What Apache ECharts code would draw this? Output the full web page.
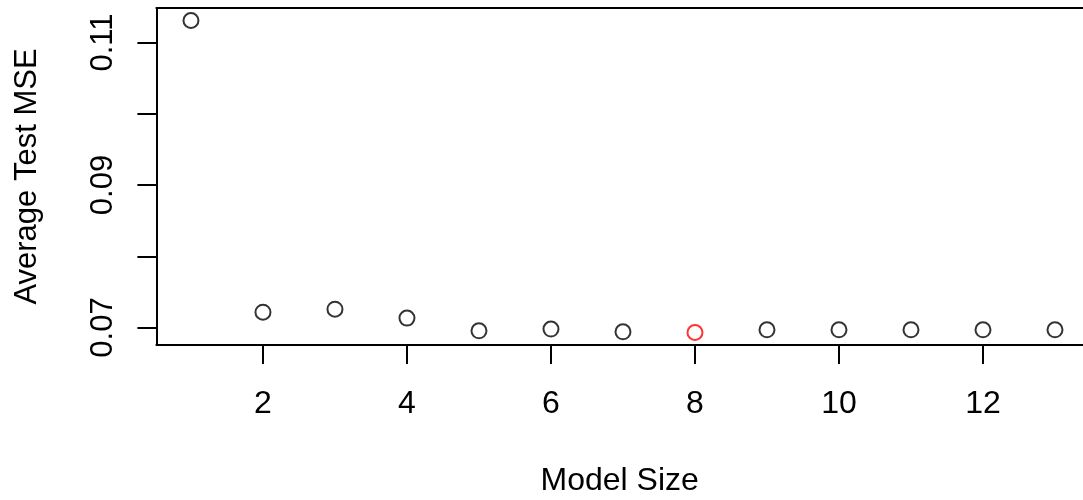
<!DOCTYPE html>
<html>
<head>
<meta charset="utf-8">
<script src="https://cdn.jsdelivr.net/npm/echarts@6/dist/echarts.min.js"></script>
<style>
  html, body { margin: 0; padding: 0; background: #fff; }
  #main { width: 1083px; height: 500px; }
</style>
</head>
<body>
<div id="main"></div>
<script>
// model sizes and average test MSE
var modelSize = [1, 2, 3, 4, 5, 6, 7, 8, 9, 10, 11, 12, 13];
var avgMse = [0.11309, 0.07216, 0.07258, 0.07132, 0.06954, 0.06978, 0.0694,
              0.0693, 0.06968, 0.06968, 0.06968, 0.06968, 0.06968];
var bestSize = 8;

var xTicks = [2, 4, 6, 8, 10, 12];
var yTicks = [0.07, 0.08, 0.09, 0.10, 0.11];
var yLabels = [0.07, 0.09, 0.11];

var font = '"Liberation Sans", Arial, sans-serif';

// R-style 4% padding on y; x is cut off at the right edge of the page
var xMin = 1 - (13 - 1) * 0.04;
var xMax = 13.389;
var yLo = Math.min.apply(null, avgMse), yHi = Math.max.apply(null, avgMse);
var yPad = (yHi - yLo) * 0.04;

var points = modelSize.map(function (s, i) {
  var c = s === bestSize ? '#ff0000' : '#000000';
  return { value: [s, avgMse[i]], itemStyle: { color: c, borderColor: c } };
});

var frame = { show: true, lineStyle: { color: '#000', width: 2 } };

var myChart = echarts.init(document.getElementById('main'));
myChart.setOption({
  animation: false,
  backgroundColor: '#ffffff',
  grid: { left: 156.4, top: 8, bottom: 155, right: 0, outerBoundsMode: 'none', containLabel: false },
  xAxis: [{
    type: 'value',
    min: xMin, max: xMax,
    name: 'Model Size', nameLocation: 'middle', nameGap: 120,
    nameTextStyle: { fontFamily: font, fontSize: 32, color: '#000', lineHeight: 32 },
    axisLine: frame,
    splitLine: { show: false },
    axisTick: { show: true, length: 19, customValues: xTicks, lineStyle: { color: '#000', width: 2 } },
    axisLabel: { customValues: xTicks, margin: 43, fontFamily: font, fontSize: 32, color: '#000', lineHeight: 32 }
  }, {
    type: 'value', position: 'top',
    min: xMin, max: xMax,
    axisLine: frame,
    splitLine: { show: false },
    axisTick: { show: false },
    axisLabel: { show: false }
  }],
  yAxis: {
    type: 'value',
    min: yLo - yPad, max: yHi + yPad,
    name: 'Average Test MSE', nameLocation: 'middle', nameGap: 113,
    nameTextStyle: { fontFamily: font, fontSize: 31, color: '#000', lineHeight: 31 },
    axisLine: frame,
    splitLine: { show: false },
    axisTick: { show: true, length: 19, customValues: yTicks, lineStyle: { color: '#000', width: 2 } },
    axisLabel: {
      customValues: yLabels, rotate: 90, margin: 37,
      fontFamily: font, fontSize: 31, color: '#000', lineHeight: 31,
      formatter: function (v) { return v.toFixed(2); }
    }
  },
  series: [{
    type: 'scatter',
    symbol: 'emptyCircle',
    symbolSize: 15,
    itemStyle: { borderWidth: 2 },
    data: points
  }]
});
</script>
</body>
</html>
